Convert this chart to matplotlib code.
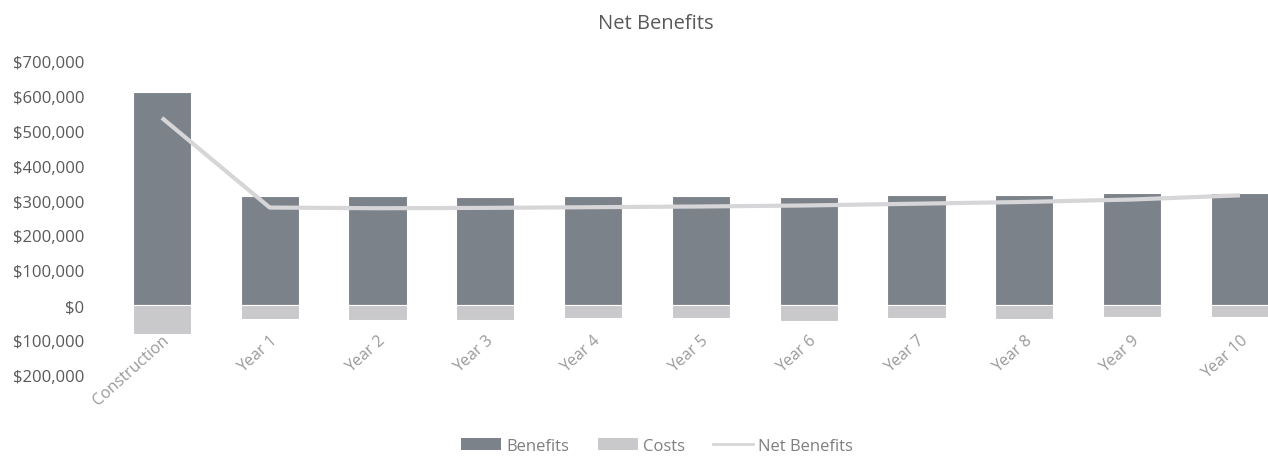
import matplotlib
matplotlib.use("Agg")
import matplotlib.pyplot as plt
from matplotlib.ticker import FuncFormatter
from matplotlib.patches import Patch
from matplotlib.lines import Line2D

categories = ["Construction", "Year 1", "Year 2", "Year 3", "Year 4", "Year 5",
              "Year 6", "Year 7", "Year 8", "Year 9", "Year 10"]
benefits = [610000, 312000, 312000, 311000, 312000, 312000, 311000, 317000, 315000, 322000, 322000]
costs = [-83000, -40000, -42000, -42000, -38000, -38000, -45000, -37000, -40000, -35000, -33000]
net_benefits = [537000, 280000, 278000, 279000, 281000, 283000, 286000, 291000, 296000, 303000, 315000]
y_ticks = [700000, 600000, 500000, 400000, 300000, 200000, 100000, 0, -100000, -200000]

plt.rcParams['font.family'] = ['Open Sans', 'DejaVu Sans']

fig = plt.figure(figsize=(12.68, 4.6), dpi=100)
ax = fig.add_axes([108/1268, 1 - 376/460, 1 - 108/1268, (376 - 62)/460])

x = list(range(len(categories)))
ax.bar(x, benefits, width=0.54, color="#7c828a", edgecolor="white", linewidth=0.8)
ax.bar(x, costs, width=0.54, color="#c9c9cb", edgecolor="white", linewidth=0.8)
ax.plot(x, net_benefits, color="#d6d6d8", linewidth=3, solid_capstyle="butt")

ax.set_xlim(-0.5, 10.26)
ax.set_ylim(-200000, 700000)
ax.set_yticks(y_ticks)
ax.yaxis.set_major_formatter(FuncFormatter(lambda v, p: "${:,.0f}".format(abs(v))))
ax.set_xticks(x)
ax.set_xticklabels(categories, rotation=42, ha="right", rotation_mode="anchor")
ax.tick_params(axis="y", length=0, labelsize=12, labelcolor="#595959", pad=17)
ax.tick_params(axis="x", length=0, labelsize=11.5, labelcolor="#9a9a9a", pad=-31)
for s in ax.spines.values():
    s.set_visible(False)

fig.text(656/1268, 1 - 24/460, "Net Benefits", ha="center", va="center",
         fontsize=14.5, color="#595959")

handles = [Patch(facecolor="#7c828a", label="Benefits"),
           Patch(facecolor="#c9c9cb", label="Costs"),
           Line2D([0], [0], color="#d6d6d8", linewidth=2, label="Net Benefits")]
fig.legend(handles=handles, loc="center", bbox_to_anchor=(657/1268, 1 - 447/460),
           ncol=3, frameon=False, fontsize=12, labelcolor="#7f7f7f",
           handlelength=2.4, handleheight=0.7, columnspacing=1.7, handletextpad=0.3)

fig.savefig("out.png", dpi=100)
